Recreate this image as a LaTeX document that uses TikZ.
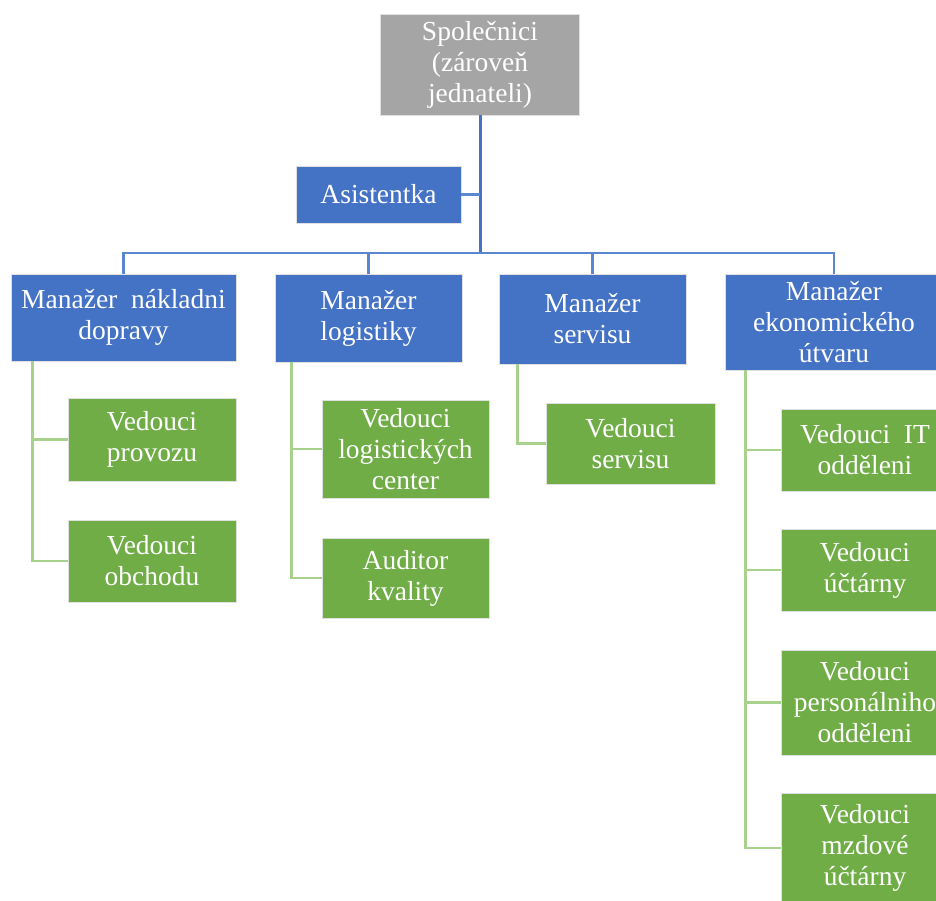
\documentclass[tikz,border=0pt]{standalone}
\usepackage{fontspec}
\setmainfont{Liberation Serif}
\definecolor{modra}{HTML}{4472C4}
\definecolor{zelena}{HTML}{70AD47}
\definecolor{seda}{HTML}{A5A5A5}
\definecolor{svetlezelena}{HTML}{A9D18E}
\definecolor{linkamodra}{HTML}{5B86D0}

\begin{document}
\begin{tikzpicture}[x=1pt,y=-1pt]
		% formatos
		\tikzstyle{every node}=[align=center, text=white, font=\fontsize{27.5}{31}\selectfont, inner sep=0pt, draw=white!88!black, line width=0.6pt]
		\tikzstyle{spolecnik} = [fill=seda]
		\tikzstyle{manazer} = [fill=modra]
		\tikzstyle{vedouci} = [fill=zelena]
		\tikzstyle{modralinka} = [linkamodra, line width=2.4pt]
		\tikzstyle{zelenalinka} = [svetlezelena, line width=2.6pt]
		\clip (0,0) rectangle (936,901);
		% nodos
		\node [spolecnik, minimum width=199, minimum height=101] (S) at (480,64.5) {Společnici\\(zároveň\\jednateli)};
		\node [manazer, minimum width=165, minimum height=57] (A) at (378.5,194.5) {Asistentka};
		\node [manazer, minimum width=225, minimum height=87] (M1) at (123.5,317.5) {Manažer\ \ nákladni\\dopravy};
		\node [manazer, minimum width=187, minimum height=88] (M2) at (368.5,318) {Manažer\\logistiky};
		\node [manazer, minimum width=187, minimum height=90] (M3) at (592.5,319) {Manažer\\servisu};
		\node [manazer, minimum width=218, minimum height=96] (M4) at (834,322) {Manažer\\ekonomického\\útvaru};
		\node [vedouci, minimum width=168, minimum height=83] (V11) at (152,439.5) {Vedouci\\provozu};
		\node [vedouci, minimum width=168, minimum height=82] (V12) at (152,561) {Vedouci\\obchodu};
		\node [vedouci, minimum width=167, minimum height=98] (V21) at (405.5,449) {Vedouci\\logistických\\center};
		\node [vedouci, minimum width=167, minimum height=80] (V22) at (405.5,578) {Auditor\\kvality};
		\node [vedouci, minimum width=169, minimum height=81] (V31) at (630.5,443.5) {Vedouci\\servisu};
		\node [vedouci, minimum width=168, minimum height=82] (V41) at (865,450) {Vedouci\ \ IT\\odděleni};
		\node [vedouci, minimum width=168, minimum height=82] (V42) at (865,570) {Vedouci\\účtárny};
		\node [vedouci, minimum width=168, minimum height=105] (V43) at (865,702.5) {Vedouci\\personálniho\\odděleni};
		\node [vedouci, minimum width=168, minimum height=110] (V44) at (865,848) {Vedouci\\mzdové\\účtárny};
		\coordinate (bus) at (480,253);
		\coordinate [xshift=22pt] (k1) at (M1.south west);
		\coordinate [xshift=17pt] (k2) at (M2.south west);
		\coordinate [xshift=19pt] (k3) at (M3.south west);
		\coordinate [xshift=21pt] (k4) at (M4.south west);
		% relaciones
		\draw [modralinka, line width=3pt, modra] (S.south) -- (bus);
		\draw [modralinka] (A.east) -- (A.east -| bus);
		\draw [modralinka] (M1.north) |- (bus) -| (M4.north);
		\draw [modralinka] (M2.north) -- (M2.north |- bus);
		\draw [modralinka] (M3.north) -- (M3.north |- bus);
		\draw [zelenalinka] (k1) |- (V11.west);
		\draw [zelenalinka] (k1) |- (V12.west);
		\draw [zelenalinka] (k2) |- (V21.west);
		\draw [zelenalinka] (k2) |- (V22.west);
		\draw [zelenalinka] (k3) |- (V31.west);
		\draw [zelenalinka] (k4) |- (V41.west);
		\draw [zelenalinka] (k4) |- (V42.west);
		\draw [zelenalinka] (k4) |- (V43.west);
		\draw [zelenalinka] (k4) |- (V44.west);
	\end{tikzpicture}
\end{document}
